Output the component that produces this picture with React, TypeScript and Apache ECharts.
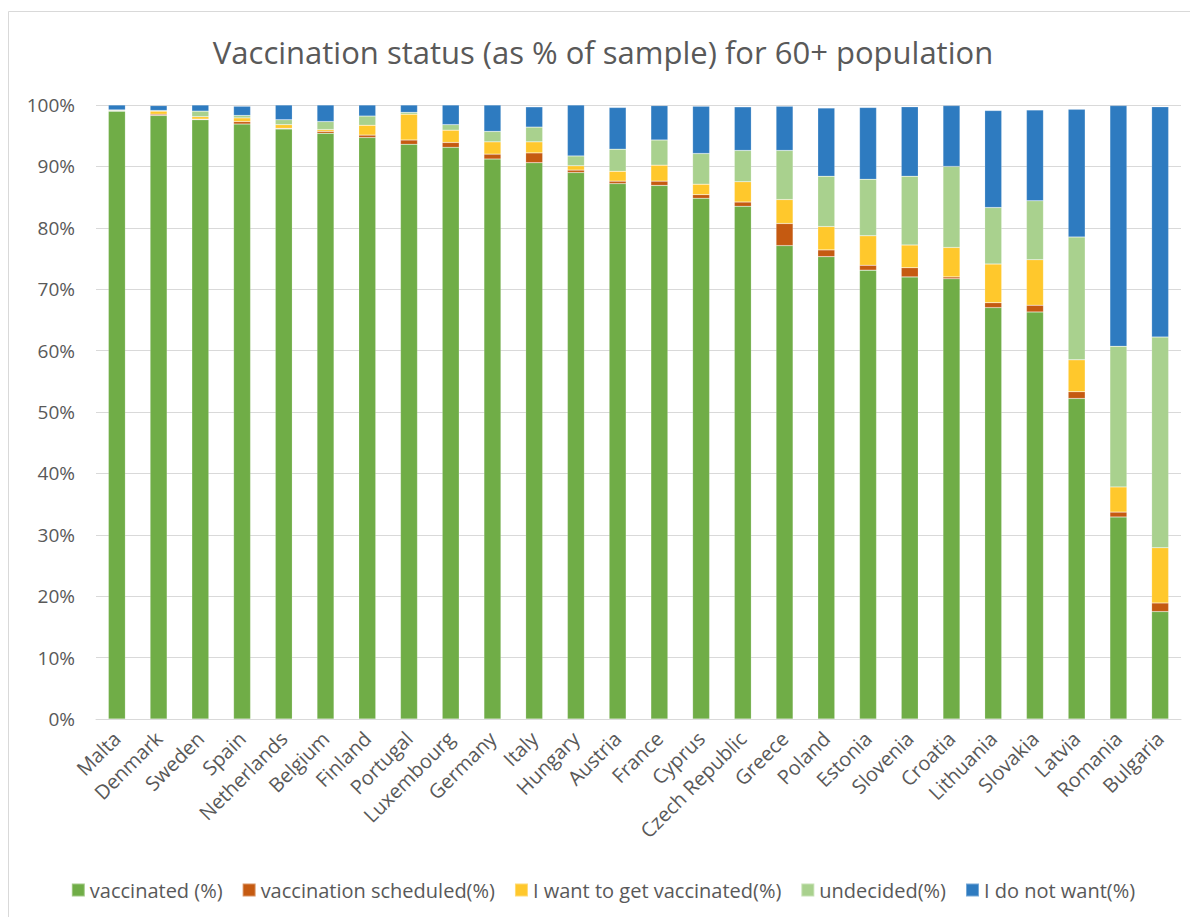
import React, { useEffect, useRef } from "react";
import * as echarts from "echarts";

const categories = ["Malta","Denmark","Sweden","Spain","Netherlands","Belgium","Finland","Portugal","Luxembourg","Germany","Italy","Hungary","Austria","France","Cyprus","Czech Republic","Greece","Poland","Estonia","Slovenia","Croatia","Lithuania","Slovakia","Latvia","Romania","Bulgaria"];

const vaccinated = [99.0,98.3,97.6,96.9,96.1,95.4,94.7,93.6,93.1,91.2,90.6,89.0,87.2,86.9,84.8,83.5,77.1,75.3,73.1,72.0,71.7,67.0,66.3,52.2,32.9,17.5];
const scheduled = [0.1,0.2,0.1,0.4,0.1,0.3,0.4,0.7,0.8,0.8,1.6,0.4,0.4,0.7,0.6,0.7,3.6,1.1,0.8,1.5,0.3,0.8,1.1,1.1,0.8,1.4];
const wantVaccine = [0.0,0.5,0.4,0.6,0.6,0.3,1.6,4.2,2.0,2.0,1.8,0.7,1.6,2.6,1.7,3.3,3.9,3.8,4.8,3.7,4.8,6.3,7.4,5.2,4.1,9.0];
const undecided = [0.1,0.1,0.9,0.4,0.8,1.3,1.5,0.3,0.9,1.7,2.4,1.6,3.6,4.1,5.0,5.1,8.0,8.2,9.2,11.2,13.2,9.2,9.6,20.0,22.9,34.3];
const notWant = [0.8,0.8,1.0,1.5,2.4,2.7,1.8,1.2,3.2,4.3,3.3,8.3,6.8,5.6,7.7,7.1,7.2,11.1,11.7,11.3,9.9,15.8,14.8,20.8,39.2,37.5];

const seriesNames = ["vaccinated (%)","vaccination scheduled(%)","I want to get vaccinated(%)","undecided(%)","I do not want(%)"];
const seriesColors = ["#70AD47","#C55A11","#FFC82C","#A9D18E","#2E7BC0"];

const FONT = "'Open Sans', 'Noto Sans', sans-serif";

export default function App() {
  const ref = useRef<HTMLDivElement>(null);
  useEffect(() => {
    if (!ref.current) return;
    const chart = echarts.init(ref.current, null, { renderer: "svg" });
    const dataSets = [vaccinated, scheduled, wantVaccine, undecided, notWant];
    chart.setOption({
      animation: false,
      backgroundColor: "#ffffff",
      title: {
        text: "Vaccination status (as % of sample) for 60+ population",
        left: "center",
        top: 23,
        textStyle: { fontFamily: FONT, fontSize: 31, fontWeight: "normal", color: "#595959" },
      },
      graphic: [
        {
          type: "rect",
          shape: { x: 0.5, y: 3.5, width: 1300, height: 1000 },
          style: { fill: "none", stroke: "#d9d9d9", lineWidth: 1 },
          silent: true,
        },
      ],
      legend: {
        bottom: 12,
        left: "center",
        itemWidth: 13,
        itemHeight: 13,
        itemGap: 19,
        icon: "rect",
        textStyle: { fontFamily: FONT, fontSize: 20, color: "#595959" },
        data: seriesNames,
      },
      grid: { left: 88, right: 17, top: 97, bottom: 198, containLabel: false },
      xAxis: {
        type: "category",
        data: categories,
        axisLine: { show: true, lineStyle: { color: "#d9d9d9", width: 1 } },
        axisTick: { show: false },
        axisLabel: {
          rotate: 45,
          interval: 0,
          fontFamily: FONT,
          fontSize: 20,
          color: "#595959",
          margin: 16,
        },
      },
      yAxis: {
        type: "value",
        min: 0,
        max: 100,
        interval: 10,
        axisLine: { show: false },
        axisTick: { show: false },
        splitLine: { lineStyle: { color: "#d9d9d9", width: 1 } },
        axisLabel: {
          formatter: "{value}%",
          fontFamily: FONT,
          fontSize: 19,
          color: "#595959",
          margin: 21,
        },
      },
      series: dataSets.map((d, i) => ({
        name: seriesNames[i],
        type: "bar",
        stack: "total",
        barWidth: 17,
        data: d,
        itemStyle: { color: seriesColors[i], borderColor: "rgba(255,255,255,0.35)", borderWidth: 0.5 },
      })),
    });
    return () => chart.dispose();
  }, []);
  return <div ref={ref} style={{ width: 1190, height: 909 }} />;
}
